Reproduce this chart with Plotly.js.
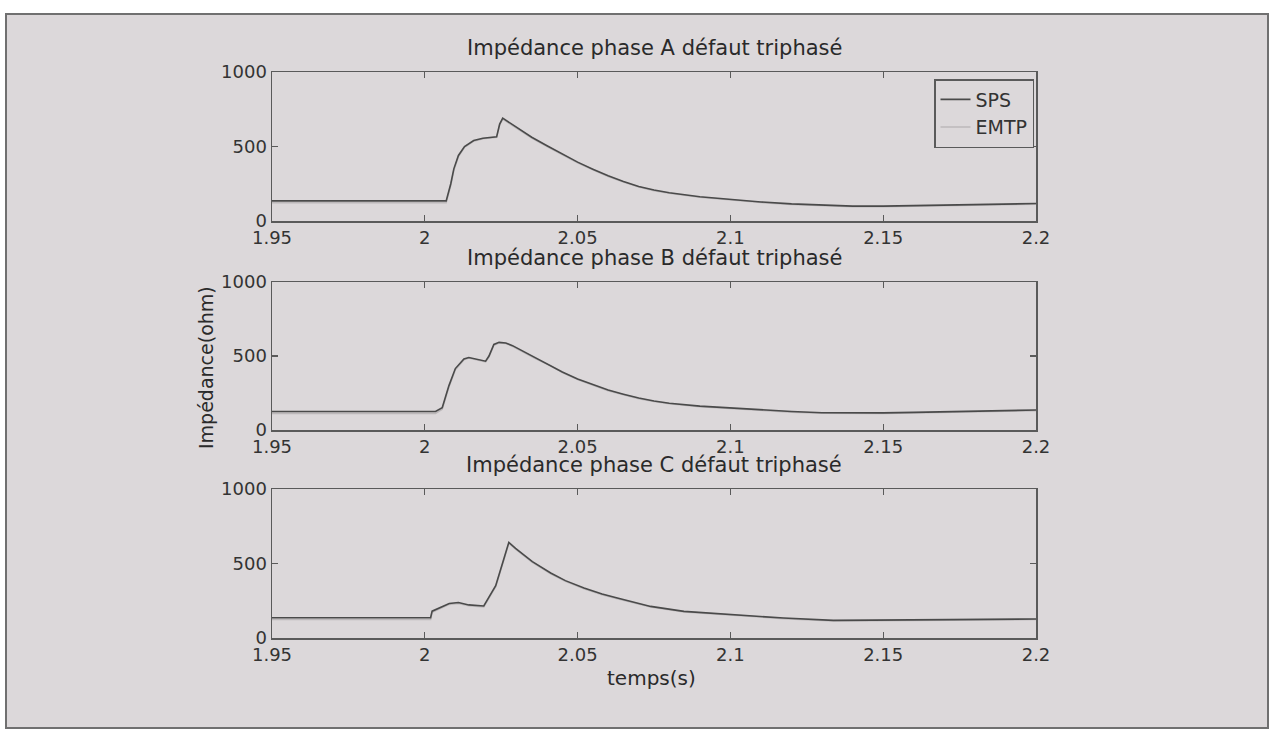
<!DOCTYPE html>
<html>
<head>
<meta charset="utf-8">
<script src="https://cdn.plot.ly/plotly-3.0.1.min.js"></script>
<style>html,body{margin:0;padding:0;background:#fff;}#chart{width:1273px;height:732px;}</style>
</head>
<body>
<div id="chart"></div>
<script>
// ---- data ----
const seriesNames = ["SPS", "EMTP"];
const subplotTitles = ["Impédance phase A défaut triphasé", "Impédance phase B défaut triphasé", "Impédance phase C défaut triphasé"];
const xTickVals = [1.95, 2, 2.05, 2.1, 2.15, 2.2];
const xTickText = ["1.95", "2", "2.05", "2.1", "2.15", "2.2"];
const yTickVals = [0, 500, 1000];
const yTickText = ["0", "500", "1000"];

const tA = [1.95, 2.007, 2.0085, 2.0095, 2.011, 2.013, 2.016, 2.019, 2.0235, 2.0245, 2.0255, 2.030, 2.035, 2.040, 2.045, 2.050, 2.055, 2.060, 2.065, 2.070, 2.075, 2.080, 2.090, 2.100, 2.110, 2.120, 2.130, 2.140, 2.150, 2.160, 2.170, 2.180, 2.190, 2.200];
const spsA = [135, 135, 250, 350, 440, 500, 540, 555, 565, 650, 690, 628, 562, 505, 450, 395, 348, 303, 265, 232, 208, 190, 163, 145, 128, 115, 106, 100, 100, 103, 107, 111, 114, 117];
const emtpA = [122, 122, 240, 340, 432, 495, 536, 552, 562, 645, 684, 622, 556, 500, 445, 391, 344, 299, 261, 228, 204, 186, 159, 141, 124, 111, 102, 96, 96, 99, 103, 107, 110, 113];

const tB = [1.95, 2.0035, 2.0057, 2.0079, 2.010, 2.0128, 2.0144, 2.0177, 2.0199, 2.021, 2.0219, 2.0226, 2.0243, 2.0265, 2.0287, 2.032, 2.036, 2.041, 2.045, 2.050, 2.055, 2.060, 2.065, 2.070, 2.075, 2.080, 2.090, 2.100, 2.110, 2.120, 2.130, 2.140, 2.150, 2.160, 2.170, 2.180, 2.190, 2.200];
const spsB = [125, 125, 150, 300, 415, 480, 490, 478, 465, 500, 545, 578, 592, 588, 570, 535, 488, 440, 392, 345, 305, 270, 242, 216, 196, 181, 161, 148, 136, 125, 117, 115, 116, 119, 123, 127, 131, 135];
const emtpB = [112, 112, 140, 290, 408, 474, 486, 474, 461, 494, 540, 573, 588, 584, 566, 530, 484, 436, 388, 341, 301, 266, 238, 212, 192, 177, 157, 144, 132, 121, 113, 111, 112, 115, 119, 123, 127, 131];

const tC = [1.95, 2.0019, 2.0024, 2.004, 2.006, 2.008, 2.011, 2.0144, 2.0193, 2.0232, 2.026, 2.0268, 2.0275, 2.0297, 2.0352, 2.0412, 2.046, 2.0521, 2.058, 2.063, 2.0739, 2.0848, 2.100, 2.1174, 2.1337, 2.150, 2.1718, 2.200];
const spsC = [136, 136, 180, 195, 215, 232, 238, 222, 215, 351, 540, 600, 642, 602, 512, 436, 385, 336, 296, 268, 212, 179, 156, 134, 118, 118, 123, 128];
const emtpC = [124, 124, 172, 188, 208, 226, 232, 216, 209, 345, 534, 594, 636, 597, 507, 431, 380, 331, 291, 264, 208, 175, 152, 130, 114, 114, 119, 124];

// ---- styling ----
const W = 1273, H = 732;
const FONT = "DejaVu Sans";
const BG = "#dcd8da";
const AX = "#5a5a5a";
const SPS_COLOR = "#4a4a4a";
const EMTP_COLOR = "#bcb8ba";
const px = v => v / W;
const py = v => 1 - v / H;

const xDom = [px(272), px(1036)];
const yDoms = [[py(221), py(72)], [py(430), py(282)], [py(638), py(489)]];
const titleY = [48, 258, 465];

const phases = [[tA, spsA, emtpA], [tB, spsB, emtpB], [tC, spsC, emtpC]];
const traces = [];
phases.forEach((p, i) => {
  const suf = i === 0 ? "" : String(i + 1);
  traces.push({x: p[0], y: p[2], type: "scatter", mode: "lines", name: seriesNames[1],
    xaxis: "x" + suf, yaxis: "y" + suf, line: {color: EMTP_COLOR, width: 1.6},
    showlegend: i === 0, legendrank: 2, hoverinfo: "skip"});
  traces.push({x: p[0], y: p[1], type: "scatter", mode: "lines", name: seriesNames[0],
    xaxis: "x" + suf, yaxis: "y" + suf, line: {color: SPS_COLOR, width: 1.6},
    showlegend: i === 0, legendrank: 1, hoverinfo: "skip"});
});

const layout = {
  width: W, height: H,
  margin: {l: 0, r: 0, t: 0, b: 0},
  paper_bgcolor: "#ffffff",
  plot_bgcolor: BG,
  font: {family: FONT, color: "#333333"},
  showlegend: true,
  legend: {x: px(1034), y: py(79), xanchor: "right", yanchor: "top",
    bgcolor: BG, bordercolor: AX, borderwidth: 1.5,
    font: {family: FONT, size: 19, color: "#333"}, itemwidth: 30},
  shapes: [{type: "rect", xref: "paper", yref: "paper", x0: px(6), x1: px(1268), y0: py(728), y1: py(14),
    line: {color: "#707070", width: 2}, fillcolor: BG, layer: "below"}],
  annotations: []
};

for (let i = 0; i < 3; i++) {
  const suf = i === 0 ? "" : String(i + 1);
  layout["xaxis" + suf] = {domain: xDom, anchor: "y" + suf, range: [1.95, 2.2],
    tickvals: xTickVals, ticktext: xTickText, showline: true, linecolor: AX, linewidth: 1.5,
    mirror: "ticks", ticks: "inside", ticklen: 6, tickcolor: AX, tickwidth: 1.2,
    showgrid: false, zeroline: false, tickfont: {family: FONT, size: 18, color: "#333"}};
  layout["yaxis" + suf] = {domain: yDoms[i], anchor: "x" + suf, range: [0, 1000],
    tickvals: yTickVals, ticktext: yTickText, showline: true, linecolor: AX, linewidth: 1.5,
    mirror: "ticks", ticks: "inside", ticklen: 6, tickcolor: AX, tickwidth: 1.2,
    showgrid: false, zeroline: false, tickfont: {family: FONT, size: 18, color: "#333"}};
  layout.annotations.push({text: subplotTitles[i], xref: "paper", yref: "paper",
    x: px(654), y: py(titleY[i]), xanchor: "center", yanchor: "middle", showarrow: false,
    font: {family: FONT, size: 21, color: "#2a2a2a"}});
}
layout.annotations.push({text: "temps(s)", xref: "paper", yref: "paper", x: px(651), y: py(678),
  xanchor: "center", yanchor: "middle", showarrow: false, font: {family: FONT, size: 20, color: "#2a2a2a"}});
layout.annotations.push({text: "Impédance(ohm)", xref: "paper", yref: "paper", x: px(206), y: py(368),
  xanchor: "center", yanchor: "middle", textangle: -90, showarrow: false, font: {family: FONT, size: 19, color: "#2a2a2a"}});

Plotly.newPlot("chart", traces, layout, {staticPlot: true, displayModeBar: false});
</script>
</body>
</html>
